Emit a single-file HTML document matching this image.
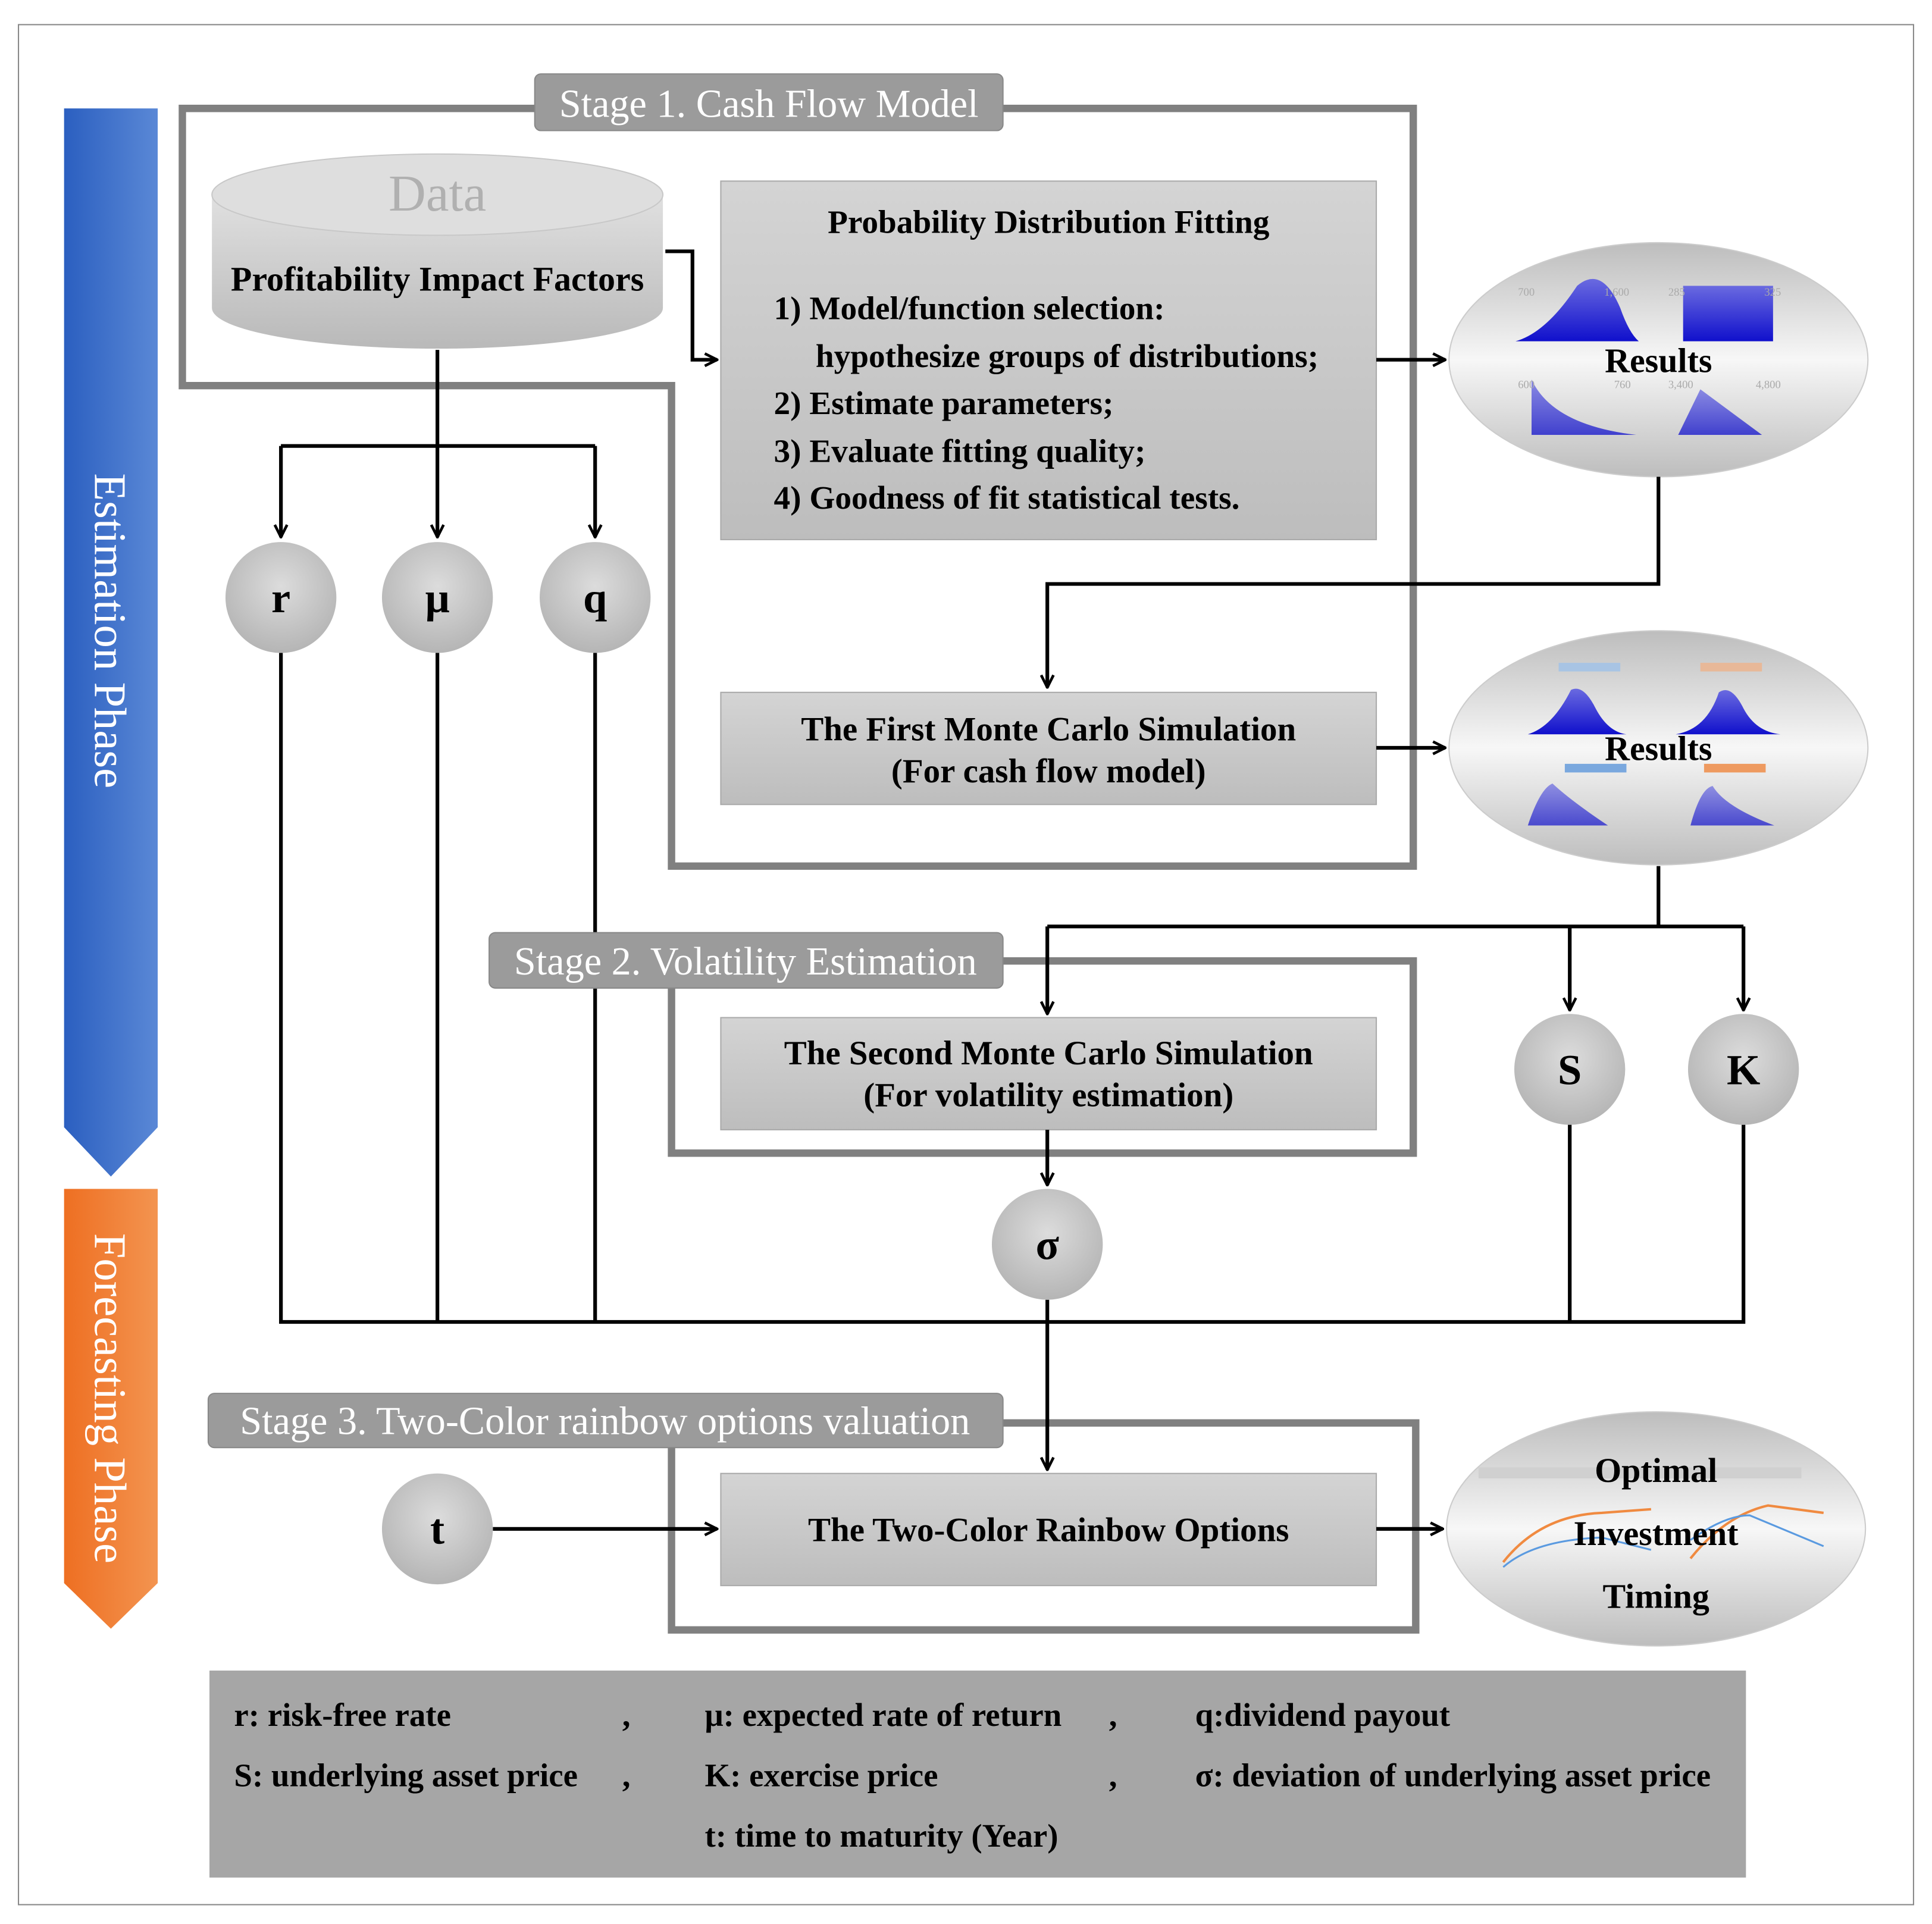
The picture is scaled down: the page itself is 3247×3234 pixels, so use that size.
<!DOCTYPE html>
<html><head><meta charset="utf-8"><style>
html,body{margin:0;padding:0;background:#fff}
svg{display:block}
text{font-family:"Liberation Serif",serif}
</style></head><body>
<svg width="3247" height="3234" viewBox="0 0 1568 1561.7" preserveAspectRatio="none" xmlns="http://www.w3.org/2000/svg">
<defs>
<linearGradient id="blue" x1="0" x2="1"><stop offset="0" stop-color="#2b5fc0"/><stop offset="1" stop-color="#5a88d6"/></linearGradient>
<linearGradient id="orange" x1="0" x2="1"><stop offset="0" stop-color="#ee6f22"/><stop offset="1" stop-color="#f39450"/></linearGradient>
<linearGradient id="box" x1="0" y1="0" x2="0" y2="1"><stop offset="0" stop-color="#d4d4d4"/><stop offset="1" stop-color="#bdbdbd"/></linearGradient>
<linearGradient id="ell" x1="0" y1="0" x2="0" y2="1"><stop offset="0" stop-color="#bdbdbd"/><stop offset="0.5" stop-color="#f7f7f7"/><stop offset="1" stop-color="#bdbdbd"/></linearGradient>
<radialGradient id="circ" cx="0.5" cy="0.4" r="0.6"><stop offset="0" stop-color="#dcdcdc"/><stop offset="1" stop-color="#b5b5b5"/></radialGradient>
<linearGradient id="cyl" x1="0" y1="0" x2="0" y2="1"><stop offset="0" stop-color="#e0e0e0"/><stop offset="1" stop-color="#b9b9b9"/></linearGradient>
<linearGradient id="bl" x1="0" y1="0" x2="0" y2="1"><stop offset="0" stop-color="#6a6ae0"/><stop offset="1" stop-color="#1010cc"/></linearGradient>
<marker id="ar" viewBox="0 0 12 12" refX="11" refY="6" markerWidth="12" markerHeight="12" markerUnits="userSpaceOnUse" orient="auto"><path d="M1,1 L11,6 L1,11" fill="none" stroke="#000" stroke-width="2.2"/></marker>
</defs>
<rect x="15" y="20" width="1538" height="1526" fill="none" stroke="#888" stroke-width="1"/>

<!-- phase arrows -->
<path d="M52,88 H128 V915 L90,955 L52,915 Z" fill="url(#blue)"/>
<text transform="translate(77,512) rotate(90)" text-anchor="middle" fill="#fff" font-size="37">Estimation  Phase</text>
<path d="M52,965 H128 V1285 L90,1322 L52,1285 Z" fill="url(#orange)"/>
<text transform="translate(77,1135) rotate(90)" text-anchor="middle" fill="#fff" font-size="37">Forecasting  Phase</text>

<!-- stage frames -->
<path d="M148,88 H1147 V703 H545 V313 H148 Z" fill="none" stroke="#808080" stroke-width="6"/>
<rect x="545" y="780" width="602" height="156" fill="none" stroke="#808080" stroke-width="6"/>
<rect x="545" y="1155" width="604" height="168" fill="none" stroke="#808080" stroke-width="6"/>

<!-- cylinder -->
<path d="M172,158 V250 A183,33 0 0 0 538,250 V158 Z" fill="url(#cyl)"/>
<ellipse cx="355" cy="158" rx="183" ry="33" fill="#dedede" stroke="#c8c8c8"/>
<text x="355" y="171" text-anchor="middle" fill="#b0b0b0" font-size="42">Data</text>
<text x="355" y="236" text-anchor="middle" font-weight="bold" font-size="28">Profitability Impact Factors</text>

<!-- boxes -->
<rect x="585" y="147" width="532" height="291" fill="url(#box)" stroke="#aaa"/>
<g font-weight="bold" font-size="26.7">
<text x="851" y="189" text-anchor="middle">Probability Distribution Fitting</text>
<text x="628" y="259">1) Model/function selection:</text>
<text x="662" y="298">hypothesize groups of distributions;</text>
<text x="628" y="336">2) Estimate parameters;</text>
<text x="628" y="375">3) Evaluate fitting quality;</text>
<text x="628" y="413">4) Goodness of fit statistical tests.</text>
</g>
<rect x="585" y="562" width="532" height="91" fill="url(#box)" stroke="#aaa"/>
<text x="851" y="601" text-anchor="middle" font-weight="bold" font-size="27.5">The First Monte Carlo Simulation</text>
<text x="851" y="635" text-anchor="middle" font-weight="bold" font-size="27.5">(For cash flow model)</text>
<rect x="585" y="826" width="532" height="91" fill="url(#box)" stroke="#aaa"/>
<text x="851" y="864" text-anchor="middle" font-weight="bold" font-size="27.5">The Second Monte Carlo Simulation</text>
<text x="851" y="898" text-anchor="middle" font-weight="bold" font-size="27.5">(For volatility estimation)</text>
<rect x="585" y="1196" width="532" height="91" fill="url(#box)" stroke="#aaa"/>
<text x="851" y="1251" text-anchor="middle" font-weight="bold" font-size="27.5">The Two-Color Rainbow Options</text>

<!-- results ellipses -->
<ellipse cx="1346" cy="292" rx="170" ry="95" fill="url(#ell)" stroke="#ccc"/>
<path d="M1230,277 Q1255,270 1280,232 Q1300,215 1315,250 Q1322,270 1330,277 Z" fill="url(#bl)"/>
<rect x="1366" y="232" width="73" height="45" fill="url(#bl)"/>
<path d="M1243,353 V308 Q1260,345 1328,353 Z" fill="url(#bl)" opacity="0.75"/>
<path d="M1362,353 L1380,316 L1430,353 Z" fill="url(#bl)" opacity="0.75"/>
<g fill="#aaa" font-size="9" font-family="Liberation Sans"><text x="1232" y="240">700</text><text x="1302" y="240">1,600</text><text x="1354" y="240">285</text><text x="1432" y="240">325</text><text x="1232" y="315">600</text><text x="1310" y="315">760</text><text x="1354" y="315">3,400</text><text x="1425" y="315">4,800</text></g>
<text x="1346" y="302" text-anchor="middle" font-weight="bold" font-size="28">Results</text>

<ellipse cx="1346" cy="607" rx="170" ry="95" fill="url(#ell)" stroke="#ccc"/>
<path d="M1240,596 Q1260,590 1275,560 Q1285,555 1295,575 Q1305,594 1320,596 Z" fill="url(#bl)"/>
<path d="M1360,596 Q1385,592 1395,562 Q1405,555 1415,575 Q1425,594 1445,596 Z" fill="url(#bl)"/>
<path d="M1240,670 Q1250,640 1260,636 Q1275,650 1305,670 Z" fill="url(#bl)" opacity="0.7"/>
<path d="M1372,670 Q1380,640 1390,638 Q1400,655 1440,670 Z" fill="url(#bl)" opacity="0.7"/>
<rect x="1265" y="538" width="50" height="7" fill="#a8c4e4"/><rect x="1380" y="538" width="50" height="7" fill="#e8b898"/>
<rect x="1270" y="620" width="50" height="7" fill="#7aa8de"/><rect x="1383" y="620" width="50" height="7" fill="#ee9a60"/>
<text x="1346" y="617" text-anchor="middle" font-weight="bold" font-size="28">Results</text>

<ellipse cx="1344" cy="1241" rx="170" ry="95" fill="url(#ell)" stroke="#ccc"/>
<rect x="1200" y="1191" width="262" height="9" fill="#d0d0d0"/>
<path d="M1220,1268 Q1250,1230 1300,1228 L1340,1225" fill="none" stroke="#f08a40" stroke-width="2"/>
<path d="M1220,1272 Q1245,1250 1300,1248 L1340,1258" fill="none" stroke="#5a9ae0" stroke-width="1.5"/>
<path d="M1372,1265 Q1400,1230 1435,1222 L1480,1228" fill="none" stroke="#f08a40" stroke-width="2"/>
<path d="M1372,1250 Q1400,1230 1420,1230 L1480,1255" fill="none" stroke="#5a9ae0" stroke-width="1.5"/>
<g text-anchor="middle" font-weight="bold" font-size="28"><text x="1344" y="1203">Optimal</text><text x="1344" y="1254">Investment</text><text x="1344" y="1305">Timing</text></g>

<!-- connectors -->
<g fill="none" stroke="#000" stroke-width="3">
<path d="M355,284 V362 M228,362 H483"/>
<path d="M228,362 V436" marker-end="url(#ar)"/>
<path d="M355,362 V436" marker-end="url(#ar)"/>
<path d="M483,362 V436" marker-end="url(#ar)"/>
<path d="M540,204 H562 V292 H582" marker-end="url(#ar)"/>
<path d="M1117,292 H1173" marker-end="url(#ar)"/>
<path d="M1346,387 V474 H850 V558" marker-end="url(#ar)"/>
<path d="M1117,607 H1173" marker-end="url(#ar)"/>
<path d="M1346,703 V752 M850,752 H1415"/>
<path d="M850,752 V823" marker-end="url(#ar)"/>
<path d="M1274,752 V820" marker-end="url(#ar)"/>
<path d="M1415,752 V820" marker-end="url(#ar)"/>
<path d="M850,917 V962" marker-end="url(#ar)"/>
<path d="M850,1055 V1193" marker-end="url(#ar)"/>
<path d="M228,530 V1073 H1415 V913 M355,530 V1073 M483,530 V1073 M1274,913 V1073"/>
<path d="M400,1241 H582" marker-end="url(#ar)"/>
<path d="M1117,1241 H1171" marker-end="url(#ar)"/>
</g>

<!-- stage labels (on top of connectors) -->
<rect x="434" y="60" width="380" height="46" rx="5" fill="#9b9b9b" stroke="#888"/>
<text x="624" y="95" text-anchor="middle" fill="#fff" font-size="32">Stage 1. Cash Flow Model</text>
<rect x="397" y="757" width="417" height="45" rx="5" fill="#9b9b9b" stroke="#888"/>
<text x="605" y="791" text-anchor="middle" fill="#fff" font-size="32">Stage 2. Volatility  Estimation</text>
<rect x="169" y="1131" width="645" height="44" rx="5" fill="#9b9b9b" stroke="#888"/>
<text x="491" y="1164" text-anchor="middle" fill="#fff" font-size="32">Stage 3. Two-Color rainbow options valuation</text>

<!-- circles -->
<g font-weight="bold" font-size="35" text-anchor="middle">
<circle cx="228" cy="485" r="45" fill="url(#circ)"/><text x="228" y="497">r</text>
<circle cx="355" cy="485" r="45" fill="url(#circ)"/><text x="355" y="497">μ</text>
<circle cx="483" cy="485" r="45" fill="url(#circ)"/><text x="483" y="497">q</text>
<circle cx="1274" cy="868" r="45" fill="url(#circ)"/><text x="1274" y="880">S</text>
<circle cx="1415" cy="868" r="45" fill="url(#circ)"/><text x="1415" y="880">K</text>
<circle cx="850" cy="1010" r="45" fill="url(#circ)"/><text x="850" y="1022">σ</text>
<circle cx="355" cy="1241" r="45" fill="url(#circ)"/><text x="355" y="1253">t</text>
</g>

<!-- legend -->
<rect x="170" y="1356" width="1247" height="168" fill="#a6a6a6"/>
<g font-weight="bold" font-size="26.5">
<text x="190" y="1401">r: risk-free rate</text><text x="505" y="1401">,</text>
<text x="572" y="1401">μ: expected rate of return</text><text x="900" y="1401">,</text>
<text x="970" y="1401">q:dividend payout</text>
<text x="190" y="1450">S: underlying asset price</text><text x="505" y="1450">,</text>
<text x="572" y="1450">K: exercise price</text><text x="900" y="1450">,</text>
<text x="970" y="1450">σ: deviation of underlying asset price</text>
<text x="572" y="1499">t: time to maturity (Year)</text>
</g>
</svg>
</body></html>
